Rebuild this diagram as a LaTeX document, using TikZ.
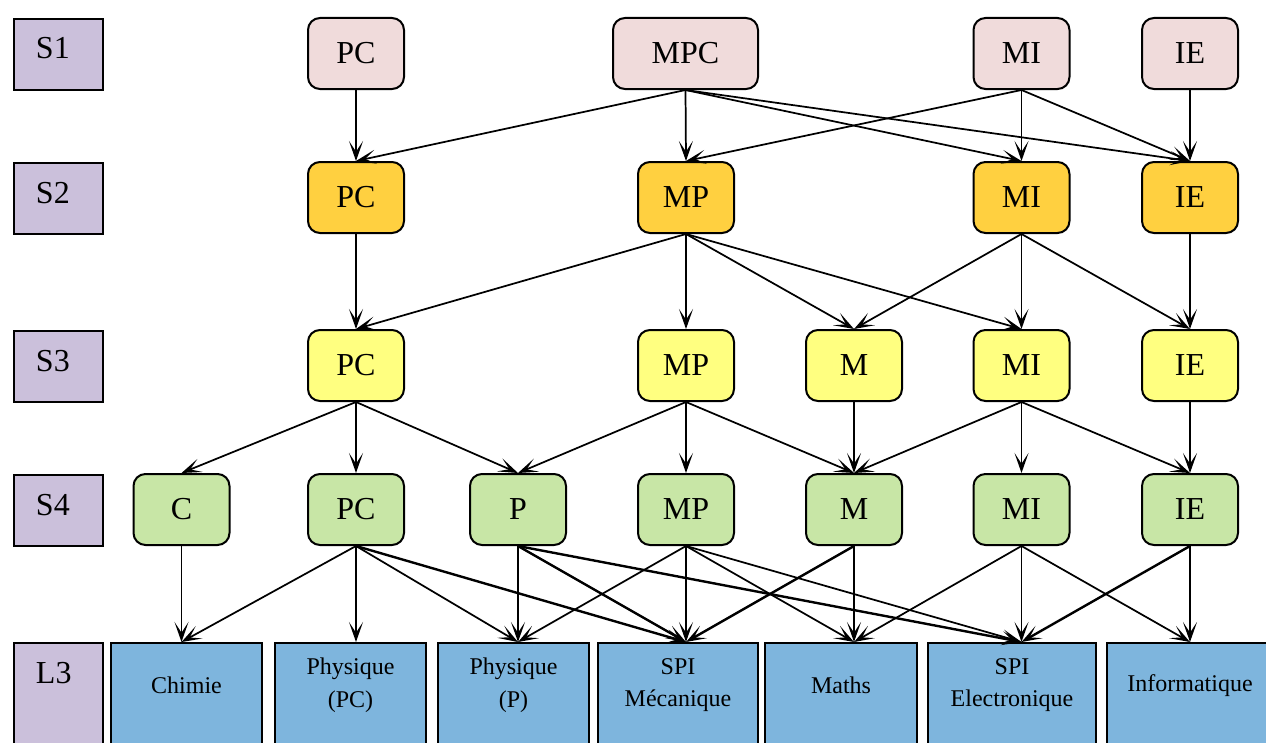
\documentclass[tikz,border=0pt]{standalone}
\usepackage{fontspec}
\setmainfont{Liberation Serif}
\usetikzlibrary{arrows.meta}

\definecolor{labfill}{HTML}{CBC0DB}
\definecolor{sonefill}{HTML}{F0DBDB}
\definecolor{stwofill}{HTML}{FFD040}
\definecolor{sthreefill}{HTML}{FFFF80}
\definecolor{sfourfill}{HTML}{C8E6A6}
\definecolor{lthreefill}{HTML}{7EB5DD}

\begin{document}
\begin{tikzpicture}[x=0.75pt,y=-0.75pt,line width=1.3pt,
    >={Stealth[length=15pt,width=10.5pt,inset=8pt]},
    sem/.style={rounded corners=9pt,draw=black,line width=1.5pt,minimum width=72pt,
      minimum height=53.25pt,inner sep=0pt,font=\fontsize{24}{28}\selectfont},
    heavy/.style={line width=1.8pt}]
    \useasboundingbox (0,0) rectangle (1266,742);
    % semester labels
    \begin{scope}[every node/.style={anchor=north west,draw=black,line width=1.5pt,fill=labfill,
        font=\fontsize{24}{28}\selectfont,inner xsep=16.5pt,inner ysep=0pt,text width=33.75pt,
        align=left,text height=30pt,text depth=23.25pt}]
        \node (s1) at (13,18) {S1};
        \node (s2) at (13,162) {S2};
        \node (s3) at (13,330) {S3};
        \node (s4) at (13,474) {S4};
        \node[text depth=52.5pt] (l3) at (13,642) {L3};
    \end{scope}
    % S1
    \begin{scope}[every node/.style={sem,fill=sonefill}]
        \node (pc1) at (356,53.5) {PC};
        \node[minimum width=108.75pt] (mpc1) at (685.5,53.5) {MPC};
        \node (mi1) at (1021.5,53.5) {MI};
        \node (ie1) at (1190,53.5) {IE};
    \end{scope}
    % S2
    \begin{scope}[every node/.style={sem,fill=stwofill}]
        \node (pc2) at (356,197.5) {PC};
        \node (mp2) at (686,197.5) {MP};
        \node (mi2) at (1021.5,197.5) {MI};
        \node (ie2) at (1190,197.5) {IE};
    \end{scope}
    % S3
    \begin{scope}[every node/.style={sem,fill=sthreefill}]
        \node (pc3) at (356,365.5) {PC};
        \node (mp3) at (686,365.5) {MP};
        \node (m3) at (854,365.5) {M};
        \node (mi3) at (1021.5,365.5) {MI};
        \node (ie3) at (1190,365.5) {IE};
    \end{scope}
    % S4
    \begin{scope}[every node/.style={sem,fill=sfourfill}]
        \node (c4) at (181.5,509.5) {C};
        \node (pc4) at (356,509.5) {PC};
        \node (p4) at (518,509.5) {P};
        \node (mp4) at (686,509.5) {MP};
        \node (m4) at (854,509.5) {M};
        \node (mi4) at (1021.5,509.5) {MI};
        \node (ie4) at (1190,509.5) {IE};
    \end{scope}
    % L3 boxes
    \begin{scope}[every node/.style={anchor=north,draw=black,line width=1.5pt,fill=lthreefill,
        minimum height=90pt,inner sep=0pt}]
        \node[minimum width=113.25pt] (chimie) at (186.5,642) {};
        \node[minimum width=113.25pt] (phypc) at (350.5,642) {};
        \node[minimum width=113.25pt] (phyp) at (513.5,642) {};
        \node[minimum width=120pt] (spimec) at (678,642) {};
        \node[minimum width=114pt] (maths) at (841,642) {};
        \node[minimum width=126pt] (spielec) at (1012,642) {};
        \node[minimum width=124.5pt] (info) at (1190,642) {};
    \end{scope}
    \begin{scope}[every node/.style={align=center,font=\fontsize{18}{24.5}\selectfont}]
        \node (chimietxt) at (186.5,685) {Chimie};
        \node (phypctxt) at (350.5,685) {Physique\\(PC)};
        \node (phyptxt) at (513.5,685) {Physique\\(P)};
        \node (spimectxt) at (678,685) {SPI\\Mécanique};
        \node (mathstxt) at (841,685) {Maths};
        \node (spielectxt) at (1012,685) {SPI\\Electronique};
        \node (infotxt) at (1190,686) {Informatique};
    \end{scope}
    \coordinate (chimiein) at (c4 |- chimie.north);
    \coordinate (phypcin) at (pc4 |- phypc.north);
    \coordinate (phypin) at (p4 |- phyp.north);
    \coordinate (spimecin) at (mp4 |- spimec.north);
    \coordinate (mathsin) at (m4 |- maths.north);
    \coordinate (spielecin) at (mi4 |- spielec.north);
    \coordinate (infoin) at (ie4 |- info.north);
    % S1 -> S2
    \draw (pc1.south) edge [->] (pc2.north);
    \draw (mpc1.south) edge [->] (pc2.north);
    \draw (mpc1.south) edge [->] (mp2.north);
    \draw (mpc1.south) edge [->] (mi2.north);
    \draw (mpc1.south) edge [->] (ie2.north);
    \draw (mi1.south) edge [->] (mp2.north);
    \draw (mi1.south) edge [->] (mi2.north);
    \draw (mi1.south) edge [->] (ie2.north);
    \draw (ie1.south) edge [->] (ie2.north);
    % S2 -> S3
    \draw (pc2.south) edge [->] (pc3.north);
    \draw (mp2.south) edge [->] (pc3.north);
    \draw (mp2.south) edge [->] (mp3.north);
    \draw (mp2.south) edge [->] (m3.north);
    \draw (mp2.south) edge [->] (mi3.north);
    \draw (mi2.south) edge [->] (m3.north);
    \draw (mi2.south) edge [->] (mi3.north);
    \draw (mi2.south) edge [->] (ie3.north);
    \draw (ie2.south) edge [->] (ie3.north);
    % S3 -> S4
    \draw (pc3.south) edge [->] (c4.north);
    \draw (pc3.south) edge [->] (pc4.north);
    \draw (pc3.south) edge [->] (p4.north);
    \draw (mp3.south) edge [->] (p4.north);
    \draw (mp3.south) edge [->] (mp4.north);
    \draw (mp3.south) edge [->] (m4.north);
    \draw (m3.south) edge [->] (m4.north);
    \draw (mi3.south) edge [->] (m4.north);
    \draw (mi3.south) edge [->] (mi4.north);
    \draw (mi3.south) edge [->] (ie4.north);
    \draw (ie3.south) edge [->] (ie4.north);
    % S4 -> L3
    \draw (c4.south) edge [->] (chimiein);
    \draw (pc4.south) edge [->] (chimiein);
    \draw (pc4.south) edge [->] (phypcin);
    \draw (pc4.south) edge [->] (phypin);
    \draw (pc4.south) edge [->,heavy] (spimecin);
    \draw (p4.south) edge [->] (phypin);
    \draw (p4.south) edge [->,heavy] (spimecin);
    \draw (p4.south) edge [->,heavy] (spielecin);
    \draw (mp4.south) edge [->] (phypin);
    \draw (mp4.south) edge [->] (spimecin);
    \draw (mp4.south) edge [->] (mathsin);
    \draw (mp4.south) edge [->] (spielecin);
    \draw (m4.south) edge [->,heavy] (spimecin);
    \draw (m4.south) edge [->] (mathsin);
    \draw (mi4.south) edge [->] (mathsin);
    \draw (mi4.south) edge [->] (spielecin);
    \draw (mi4.south) edge [->] (infoin);
    \draw (ie4.south) edge [->,heavy] (spielecin);
    \draw (ie4.south) edge [->] (infoin);
\end{tikzpicture}
\end{document}
